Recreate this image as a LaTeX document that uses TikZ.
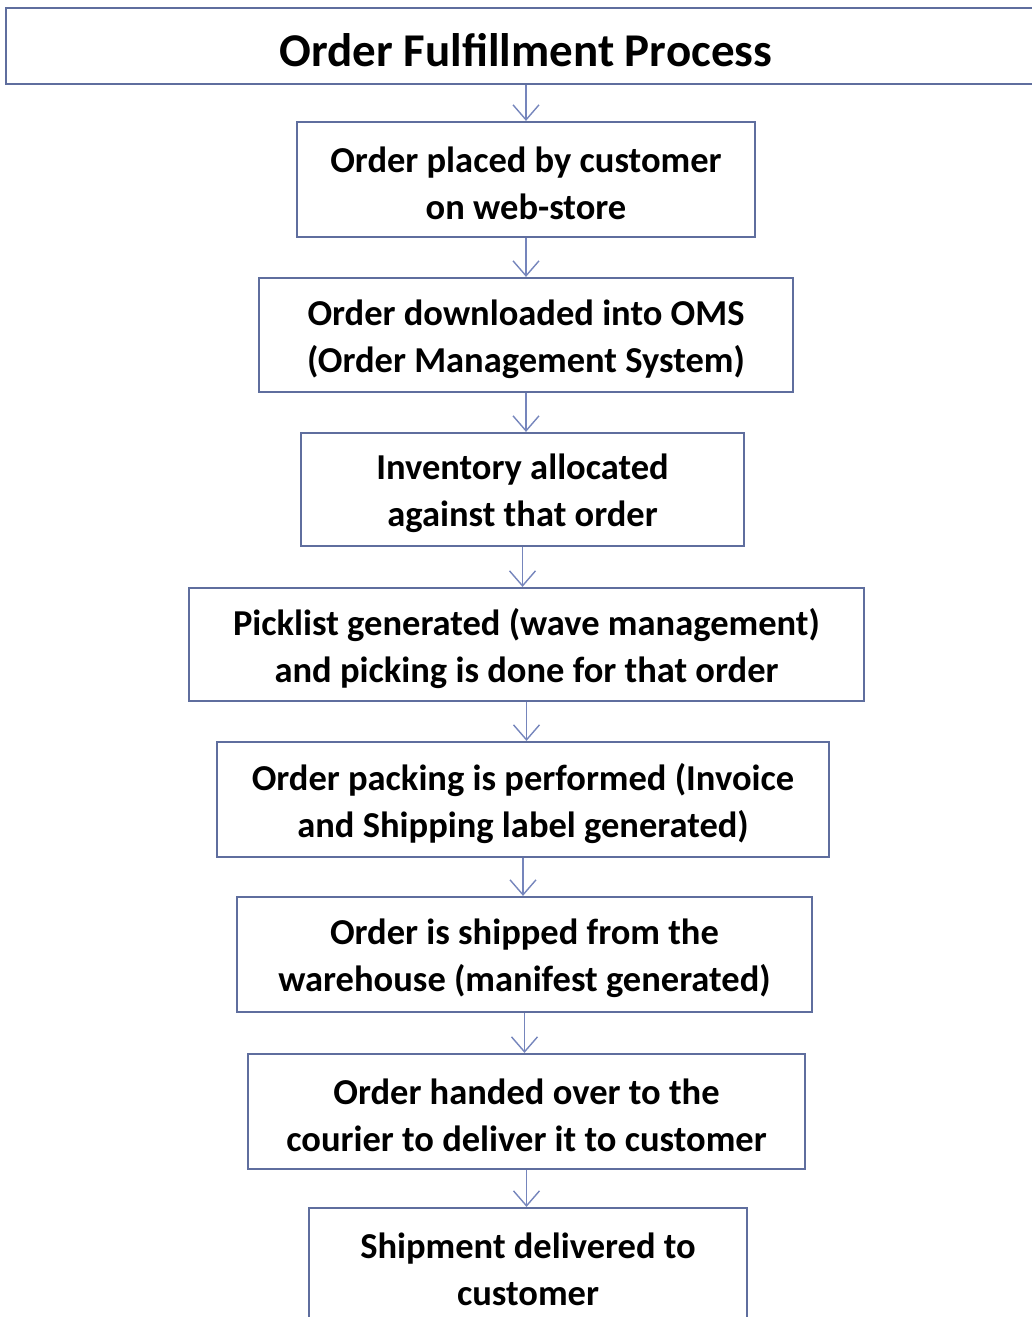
\documentclass[tikz,border=0pt]{standalone}
\usepackage{fontspec}
\setmainfont{Carlito}
\usetikzlibrary{arrows.meta}
\definecolor{boxline}{HTML}{5F6E9E}
\definecolor{arrowline}{HTML}{7585BC}
\begin{document}
\begin{tikzpicture}[x=1pt,y=-1pt,
  stepbox/.style={draw=boxline, line width=2.2pt, fill=white, inner sep=0pt},
  steptext/.style={align=center, inner sep=0pt, font=\fontsize{36.5}{47}\selectfont\bfseries},
  flow/.style={draw=arrowline, line width=1.4pt, -{Straight Barb[length=15pt,width=26pt,line width=1.4pt]}}]
\useasboundingbox (0,0) rectangle (1032,1317);
\node[draw=boxline, line width=2.2pt, minimum width=1034pt, minimum height=76pt, inner sep=0pt] (title) at (523,46) {};
\node[font=\fontsize{47}{52}\selectfont\bfseries] (titletext) at (526,50) {Order Fulfillment Process};
\node[stepbox, minimum width=458pt, minimum height=115pt] (b1) at (526,179.5) {};
\node[stepbox, minimum width=534pt, minimum height=114pt] (b2) at (526,335) {};
\node[stepbox, minimum width=443pt, minimum height=113pt] (b3) at (522.5,489.5) {};
\node[stepbox, minimum width=675pt, minimum height=113pt] (b4) at (526.5,644.5) {};
\node[stepbox, minimum width=612pt, minimum height=115pt] (b5) at (523,799.5) {};
\node[stepbox, minimum width=575pt, minimum height=115pt] (b6) at (524.5,954.5) {};
\node[stepbox, minimum width=557pt, minimum height=115pt] (b7) at (526.5,1111.5) {};
\node[stepbox, minimum width=438pt, minimum height=115pt] (b8) at (528,1265.5) {};
\node[steptext] (t1) at ([yshift=-4pt]b1.center) {Order placed by customer\\on web-store};
\node[steptext] (t2) at ([yshift=-4pt]b2.center) {Order downloaded into OMS\\(Order Management System)};
\node[steptext] (t3) at ([yshift=-4pt]b3.center) {Inventory allocated\\against that order};
\node[steptext] (t4) at ([yshift=-4pt]b4.center) {Picklist generated (wave management)\\and picking is done for that order};
\node[steptext] (t5) at ([yshift=-4pt]b5.center) {Order packing is performed (Invoice\\and Shipping label generated)};
\node[steptext] (t6) at ([yshift=-4pt]b6.center) {Order is shipped from the\\warehouse (manifest generated)};
\node[steptext] (t7) at ([yshift=-4pt]b7.center) {Order handed over to the\\courier to deliver it to customer};
\node[steptext] (t8) at ([yshift=-4pt]b8.center) {Shipment delivered to\\customer};
\draw[flow] (title.south -| b1.north) -- (b1.north);
\draw[flow] (b1.south) -- (b1.south |- b2.north);
\draw[flow] (b2.south) -- (b2.south |- b3.north);
\draw[flow] (b3.south) -- (b3.south |- b4.north);
\draw[flow] (b4.south) -- (b4.south |- b5.north);
\draw[flow] (b5.south) -- (b5.south |- b6.north);
\draw[flow] (b6.south) -- (b6.south |- b7.north);
\draw[flow] (b7.south) -- (b7.south |- b8.north);
\end{tikzpicture}
\end{document}
